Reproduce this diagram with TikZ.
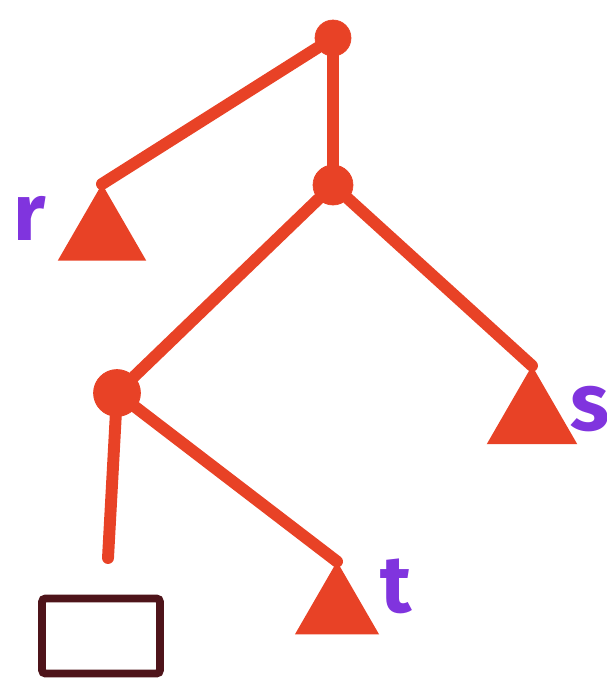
\documentclass[tikz,border=0pt]{standalone}
\usepackage{fontspec}
\setsansfont{Fira Sans}
\usetikzlibrary{shapes.geometric}
\definecolor{marker}{RGB}{232,66,38}
\definecolor{violet}{RGB}{128,52,222}
\definecolor{maroon}{RGB}{78,20,26}
\tikzset{
  joint/.style={circle, fill=marker, draw=marker, inner sep=0pt},
  tri/.style={regular polygon, regular polygon sides=3, fill=marker, draw=marker, line width=2pt, inner sep=0pt},
  lbl/.style={text=violet, font=\sffamily\bfseries\fontsize{46}{50}\selectfont, anchor=base, inner sep=0pt},
  edge/.style={draw=marker, line width=6.8pt, line cap=round},
  box/.style={rectangle, draw=maroon, line width=4.5pt, minimum width=2.36cm, minimum height=1.5cm, rounded corners=2pt}
}
\begin{document}
\begin{tikzpicture}[x=0.02cm,y=-0.02cm]
\useasboundingbox (0,0) rectangle (607,684);
\node[joint, minimum size=0.72cm] (top) at (333,38) {};
\node[joint, minimum size=0.8cm] (mid) at (333,185) {};
\node[joint, minimum size=0.94cm] (low) at (117,393) {};
\node[tri, minimum size=1.9cm] (r) at (102,235) {};
\node[tri, minimum size=1.95cm] (s) at (532,418) {};
\node[tri, minimum size=1.8cm] (t) at (337,610) {};
\coordinate (leaf) at (108,558);
\node[box] (sq) at (101,636) {};
\node[lbl] (rl) at (30,240) {r};
\node[lbl] (sl) at (590,430) {s};
\node[lbl] (tl) at (396,612) {t};
\draw[edge] (top) -- (r.corner 1);
\draw[edge] (top) -- (mid);
\draw[edge] (mid) -- (low);
\draw[edge] (mid) -- (s.corner 1);
\draw[edge] (low) -- (t.corner 1);
\draw[edge] (low) -- (leaf);
\end{tikzpicture}
\end{document}
